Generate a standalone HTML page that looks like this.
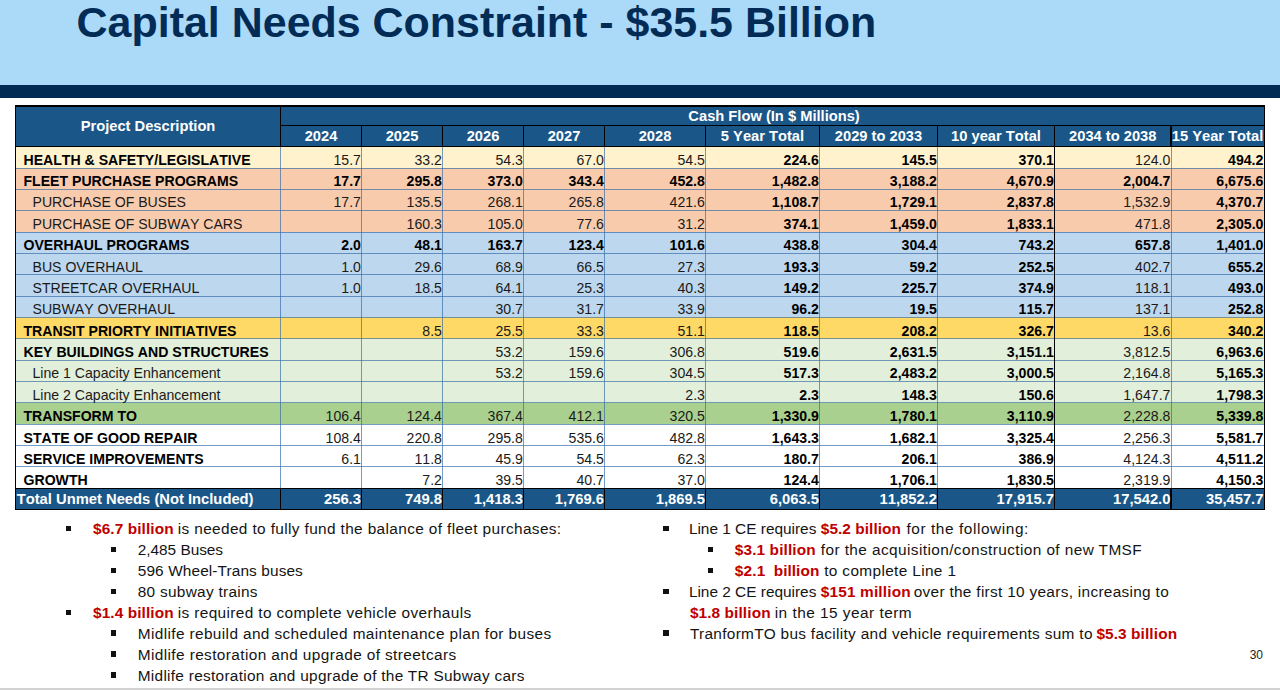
<!DOCTYPE html>
<html><head><meta charset="utf-8"><title>Capital Needs Constraint</title>
<style>
html,body{margin:0;padding:0;}
body{width:1280px;height:690px;position:relative;overflow:hidden;background:#fff;font-family:"Liberation Sans",sans-serif;color:#000;}
.a{position:absolute;}
#band{left:0;top:0;width:1280px;height:85px;background:#ABD9F8;}
#dark{left:0;top:85.2px;width:1280px;height:13.1px;background:#012B52;}
#title{left:76.6px;top:-5.3px;font-size:42.96px;font-weight:bold;color:#022C56;white-space:nowrap;line-height:54px;letter-spacing:0px;}
#foot{left:0;top:687.6px;width:1280px;height:3px;background:#D2D2D2;}
.bg{position:absolute;}
.hl{position:absolute;height:1px;background:rgba(48,104,165,0.66);}
.vl{position:absolute;width:1px;background:rgba(48,104,165,0.66);}
.bl{position:absolute;background:#000;}
.t{position:absolute;white-space:nowrap;font-kerning:none;color:#1a1a1a;font-size:14.1px;line-height:16px;height:16px;}
.r{text-align:right;}
.b{font-weight:bold;color:#000;}
.h{position:absolute;white-space:nowrap;font-kerning:none;font-size:14.7px;line-height:17px;height:17px;font-weight:bold;color:#fff;text-align:center;}
.w{color:#fff;font-weight:bold;}
.bt{position:absolute;white-space:pre;font-size:15.4px;line-height:20px;height:20px;color:#141414;}
.bb{color:#C00000;font-weight:bold;}
.sq{position:absolute;width:5px;height:5px;background:#111;}
#pn{left:1249.7px;top:647.6px;font-size:12px;line-height:14px;color:#222;}
</style></head><body>
<div class="a" id="band"></div>
<div class="a" id="dark"></div>
<div class="a" id="title">Capital Needs Constraint - $35.5 Billion</div>

<div class="bg" style="left:15.5px;top:105.5px;width:1248.5px;height:41.5px;background:#1A5788"></div>
<div class="bg" style="left:15.5px;top:147.00px;width:1248.5px;height:21.81px;background:#FFF2CC"></div>
<div class="bg" style="left:15.5px;top:168.31px;width:1248.5px;height:21.81px;background:#F8CBAD"></div>
<div class="bg" style="left:15.5px;top:189.62px;width:1248.5px;height:21.81px;background:#F8CBAD"></div>
<div class="bg" style="left:15.5px;top:210.93px;width:1248.5px;height:21.81px;background:#F8CBAD"></div>
<div class="bg" style="left:15.5px;top:232.24px;width:1248.5px;height:21.81px;background:#BDD7EE"></div>
<div class="bg" style="left:15.5px;top:253.55px;width:1248.5px;height:21.81px;background:#BDD7EE"></div>
<div class="bg" style="left:15.5px;top:274.86px;width:1248.5px;height:21.81px;background:#BDD7EE"></div>
<div class="bg" style="left:15.5px;top:296.17px;width:1248.5px;height:21.81px;background:#BDD7EE"></div>
<div class="bg" style="left:15.5px;top:317.48px;width:1248.5px;height:21.81px;background:#FFD966"></div>
<div class="bg" style="left:15.5px;top:338.79px;width:1248.5px;height:21.81px;background:#E2EFDA"></div>
<div class="bg" style="left:15.5px;top:360.10px;width:1248.5px;height:21.81px;background:#E2EFDA"></div>
<div class="bg" style="left:15.5px;top:381.41px;width:1248.5px;height:21.81px;background:#E2EFDA"></div>
<div class="bg" style="left:15.5px;top:402.72px;width:1248.5px;height:21.81px;background:#A9D08E"></div>
<div class="bg" style="left:15.5px;top:424.03px;width:1248.5px;height:21.81px;background:#FFFFFF"></div>
<div class="bg" style="left:15.5px;top:445.34px;width:1248.5px;height:21.81px;background:#FFFFFF"></div>
<div class="bg" style="left:15.5px;top:466.65px;width:1248.5px;height:21.81px;background:#FFFFFF"></div>
<div class="bg" style="left:15.5px;top:487.96px;width:1248.5px;height:21.31px;background:#1A5788"></div>
<div class="hl" style="left:15.5px;top:167.81px;width:1248.5px"></div>
<div class="hl" style="left:15.5px;top:189.12px;width:1248.5px"></div>
<div class="hl" style="left:15.5px;top:210.43px;width:1248.5px"></div>
<div class="hl" style="left:15.5px;top:231.74px;width:1248.5px"></div>
<div class="hl" style="left:15.5px;top:253.05px;width:1248.5px"></div>
<div class="hl" style="left:15.5px;top:274.36px;width:1248.5px"></div>
<div class="hl" style="left:15.5px;top:295.67px;width:1248.5px"></div>
<div class="hl" style="left:15.5px;top:316.98px;width:1248.5px"></div>
<div class="hl" style="left:15.5px;top:338.29px;width:1248.5px"></div>
<div class="hl" style="left:15.5px;top:359.60px;width:1248.5px"></div>
<div class="hl" style="left:15.5px;top:380.91px;width:1248.5px"></div>
<div class="hl" style="left:15.5px;top:402.22px;width:1248.5px"></div>
<div class="hl" style="left:15.5px;top:423.53px;width:1248.5px"></div>
<div class="hl" style="left:15.5px;top:444.84px;width:1248.5px"></div>
<div class="hl" style="left:15.5px;top:466.15px;width:1248.5px"></div>
<div class="vl" style="left:280.00px;top:147.0px;height:340.96px"></div>
<div class="vl" style="left:361.00px;top:147.0px;height:340.96px"></div>
<div class="vl" style="left:442.00px;top:147.0px;height:340.96px"></div>
<div class="vl" style="left:523.00px;top:147.0px;height:340.96px"></div>
<div class="vl" style="left:604.00px;top:147.0px;height:340.96px"></div>
<div class="vl" style="left:705.00px;top:147.0px;height:340.96px"></div>
<div class="vl" style="left:819.00px;top:147.0px;height:340.96px"></div>
<div class="vl" style="left:937.00px;top:147.0px;height:340.96px"></div>
<div class="vl" style="left:1054.00px;top:147.0px;height:340.96px"></div>
<div class="vl" style="left:1170.50px;top:147.0px;height:340.96px"></div>
<div class="bl" style="left:14.90px;top:104.90px;width:1249.80px;height:1.80px"></div>
<div class="bl" style="left:14.90px;top:104.50px;width:1.60px;height:405.77px"></div>
<div class="bl" style="left:1263.60px;top:104.50px;width:1.10px;height:405.77px"></div>
<div class="bl" style="left:14.90px;top:508.72px;width:1249.80px;height:1.40px"></div>
<div class="bl" style="left:15.50px;top:145.80px;width:1248.50px;height:1.50px"></div>
<div class="bl" style="left:15.50px;top:487.61px;width:1248.50px;height:1.35px"></div>
<div class="bl" style="left:280.50px;top:124.70px;width:983.50px;height:1.50px"></div>
<div class="bl" style="left:279.70px;top:105.50px;width:1.60px;height:41.50px"></div>
<div class="bl" style="left:360.75px;top:125.50px;width:1.50px;height:21.50px"></div>
<div class="bl" style="left:360.75px;top:487.96px;width:1.50px;height:21.31px"></div>
<div class="bl" style="left:441.75px;top:125.50px;width:1.50px;height:21.50px"></div>
<div class="bl" style="left:441.75px;top:487.96px;width:1.50px;height:21.31px"></div>
<div class="bl" style="left:522.75px;top:125.50px;width:1.50px;height:21.50px"></div>
<div class="bl" style="left:522.75px;top:487.96px;width:1.50px;height:21.31px"></div>
<div class="bl" style="left:603.75px;top:125.50px;width:1.50px;height:21.50px"></div>
<div class="bl" style="left:603.75px;top:487.96px;width:1.50px;height:21.31px"></div>
<div class="bl" style="left:704.75px;top:125.50px;width:1.50px;height:21.50px"></div>
<div class="bl" style="left:704.75px;top:487.96px;width:1.50px;height:21.31px"></div>
<div class="bl" style="left:818.75px;top:125.50px;width:1.50px;height:21.50px"></div>
<div class="bl" style="left:818.75px;top:487.96px;width:1.50px;height:21.31px"></div>
<div class="bl" style="left:936.75px;top:125.50px;width:1.50px;height:21.50px"></div>
<div class="bl" style="left:936.75px;top:487.96px;width:1.50px;height:21.31px"></div>
<div class="bl" style="left:1053.75px;top:125.50px;width:1.50px;height:21.50px"></div>
<div class="bl" style="left:1053.75px;top:487.96px;width:1.50px;height:21.31px"></div>
<div class="bl" style="left:1170.25px;top:125.50px;width:1.50px;height:21.50px"></div>
<div class="bl" style="left:1170.25px;top:487.96px;width:1.50px;height:21.31px"></div>
<div class="bl" style="left:279.75px;top:487.96px;width:1.50px;height:21.31px"></div>
<div class="bl" style="left:1053.50px;top:147.00px;width:1.50px;height:340.96px"></div>
<div class="h" style="left:15.5px;width:265.0px;top:117.75px">Project Description</div>
<div class="h" style="left:280.5px;width:983.5px;top:107.90px;padding-left:1.8px">Cash Flow (In $ Millions)</div>
<div class="h" style="left:280.5px;width:81.0px;top:128.25px">2024</div>
<div class="h" style="left:361.5px;width:81.0px;top:128.25px">2025</div>
<div class="h" style="left:442.5px;width:81.0px;top:128.25px">2026</div>
<div class="h" style="left:523.5px;width:81.0px;top:128.25px">2027</div>
<div class="h" style="left:604.5px;width:101.0px;top:128.25px">2028</div>
<div class="h" style="left:705.5px;width:114.0px;top:128.25px">5 Year Total</div>
<div class="h" style="left:819.5px;width:118.0px;top:128.25px">2029 to 2033</div>
<div class="h" style="left:937.5px;width:117.0px;top:128.25px">10 year Total</div>
<div class="h" style="left:1054.5px;width:116.5px;top:128.25px">2034 to 2038</div>
<div class="h" style="left:1171.0px;width:93.0px;top:128.25px">15 Year Total</div>
<div class="t b" style="left:23.5px;top:151.70px">HEALTH &amp; SAFETY/LEGISLATIVE</div>
<div class="t r" style="left:280.90px;width:80px;top:151.70px">15.7</div>
<div class="t r" style="left:361.90px;width:80px;top:151.70px">33.2</div>
<div class="t r" style="left:442.90px;width:80px;top:151.70px">54.3</div>
<div class="t r" style="left:523.90px;width:80px;top:151.70px">67.0</div>
<div class="t r" style="left:624.90px;width:80px;top:151.70px">54.5</div>
<div class="t r b" style="left:738.90px;width:80px;top:151.70px">224.6</div>
<div class="t r b" style="left:856.90px;width:80px;top:151.70px">145.5</div>
<div class="t r b" style="left:973.90px;width:80px;top:151.70px">370.1</div>
<div class="t r" style="left:1090.40px;width:80px;top:151.70px">124.0</div>
<div class="t r b" style="left:1183.40px;width:80px;top:151.70px">494.2</div>
<div class="t b" style="left:23.5px;top:173.07px">FLEET PURCHASE PROGRAMS</div>
<div class="t r b" style="left:280.90px;width:80px;top:173.07px">17.7</div>
<div class="t r b" style="left:361.90px;width:80px;top:173.07px">295.8</div>
<div class="t r b" style="left:442.90px;width:80px;top:173.07px">373.0</div>
<div class="t r b" style="left:523.90px;width:80px;top:173.07px">343.4</div>
<div class="t r b" style="left:624.90px;width:80px;top:173.07px">452.8</div>
<div class="t r b" style="left:738.90px;width:80px;top:173.07px">1,482.8</div>
<div class="t r b" style="left:856.90px;width:80px;top:173.07px">3,188.2</div>
<div class="t r b" style="left:973.90px;width:80px;top:173.07px">4,670.9</div>
<div class="t r b" style="left:1090.40px;width:80px;top:173.07px">2,004.7</div>
<div class="t r b" style="left:1183.40px;width:80px;top:173.07px">6,675.6</div>
<div class="t" style="left:32.5px;top:194.44px">PURCHASE OF BUSES</div>
<div class="t r" style="left:280.90px;width:80px;top:194.44px">17.7</div>
<div class="t r" style="left:361.90px;width:80px;top:194.44px">135.5</div>
<div class="t r" style="left:442.90px;width:80px;top:194.44px">268.1</div>
<div class="t r" style="left:523.90px;width:80px;top:194.44px">265.8</div>
<div class="t r" style="left:624.90px;width:80px;top:194.44px">421.6</div>
<div class="t r b" style="left:738.90px;width:80px;top:194.44px">1,108.7</div>
<div class="t r b" style="left:856.90px;width:80px;top:194.44px">1,729.1</div>
<div class="t r b" style="left:973.90px;width:80px;top:194.44px">2,837.8</div>
<div class="t r" style="left:1090.40px;width:80px;top:194.44px">1,532.9</div>
<div class="t r b" style="left:1183.40px;width:80px;top:194.44px">4,370.7</div>
<div class="t" style="left:32.5px;top:215.81px">PURCHASE OF SUBWAY CARS</div>
<div class="t r" style="left:361.90px;width:80px;top:215.81px">160.3</div>
<div class="t r" style="left:442.90px;width:80px;top:215.81px">105.0</div>
<div class="t r" style="left:523.90px;width:80px;top:215.81px">77.6</div>
<div class="t r" style="left:624.90px;width:80px;top:215.81px">31.2</div>
<div class="t r b" style="left:738.90px;width:80px;top:215.81px">374.1</div>
<div class="t r b" style="left:856.90px;width:80px;top:215.81px">1,459.0</div>
<div class="t r b" style="left:973.90px;width:80px;top:215.81px">1,833.1</div>
<div class="t r" style="left:1090.40px;width:80px;top:215.81px">471.8</div>
<div class="t r b" style="left:1183.40px;width:80px;top:215.81px">2,305.0</div>
<div class="t b" style="left:23.5px;top:237.18px">OVERHAUL PROGRAMS</div>
<div class="t r b" style="left:280.90px;width:80px;top:237.18px">2.0</div>
<div class="t r b" style="left:361.90px;width:80px;top:237.18px">48.1</div>
<div class="t r b" style="left:442.90px;width:80px;top:237.18px">163.7</div>
<div class="t r b" style="left:523.90px;width:80px;top:237.18px">123.4</div>
<div class="t r b" style="left:624.90px;width:80px;top:237.18px">101.6</div>
<div class="t r b" style="left:738.90px;width:80px;top:237.18px">438.8</div>
<div class="t r b" style="left:856.90px;width:80px;top:237.18px">304.4</div>
<div class="t r b" style="left:973.90px;width:80px;top:237.18px">743.2</div>
<div class="t r b" style="left:1090.40px;width:80px;top:237.18px">657.8</div>
<div class="t r b" style="left:1183.40px;width:80px;top:237.18px">1,401.0</div>
<div class="t" style="left:32.5px;top:258.55px">BUS OVERHAUL</div>
<div class="t r" style="left:280.90px;width:80px;top:258.55px">1.0</div>
<div class="t r" style="left:361.90px;width:80px;top:258.55px">29.6</div>
<div class="t r" style="left:442.90px;width:80px;top:258.55px">68.9</div>
<div class="t r" style="left:523.90px;width:80px;top:258.55px">66.5</div>
<div class="t r" style="left:624.90px;width:80px;top:258.55px">27.3</div>
<div class="t r b" style="left:738.90px;width:80px;top:258.55px">193.3</div>
<div class="t r b" style="left:856.90px;width:80px;top:258.55px">59.2</div>
<div class="t r b" style="left:973.90px;width:80px;top:258.55px">252.5</div>
<div class="t r" style="left:1090.40px;width:80px;top:258.55px">402.7</div>
<div class="t r b" style="left:1183.40px;width:80px;top:258.55px">655.2</div>
<div class="t" style="left:32.5px;top:279.92px">STREETCAR OVERHAUL</div>
<div class="t r" style="left:280.90px;width:80px;top:279.92px">1.0</div>
<div class="t r" style="left:361.90px;width:80px;top:279.92px">18.5</div>
<div class="t r" style="left:442.90px;width:80px;top:279.92px">64.1</div>
<div class="t r" style="left:523.90px;width:80px;top:279.92px">25.3</div>
<div class="t r" style="left:624.90px;width:80px;top:279.92px">40.3</div>
<div class="t r b" style="left:738.90px;width:80px;top:279.92px">149.2</div>
<div class="t r b" style="left:856.90px;width:80px;top:279.92px">225.7</div>
<div class="t r b" style="left:973.90px;width:80px;top:279.92px">374.9</div>
<div class="t r" style="left:1090.40px;width:80px;top:279.92px">118.1</div>
<div class="t r b" style="left:1183.40px;width:80px;top:279.92px">493.0</div>
<div class="t" style="left:32.5px;top:301.29px">SUBWAY OVERHAUL</div>
<div class="t r" style="left:442.90px;width:80px;top:301.29px">30.7</div>
<div class="t r" style="left:523.90px;width:80px;top:301.29px">31.7</div>
<div class="t r" style="left:624.90px;width:80px;top:301.29px">33.9</div>
<div class="t r b" style="left:738.90px;width:80px;top:301.29px">96.2</div>
<div class="t r b" style="left:856.90px;width:80px;top:301.29px">19.5</div>
<div class="t r b" style="left:973.90px;width:80px;top:301.29px">115.7</div>
<div class="t r" style="left:1090.40px;width:80px;top:301.29px">137.1</div>
<div class="t r b" style="left:1183.40px;width:80px;top:301.29px">252.8</div>
<div class="t b" style="left:23.5px;top:322.66px">TRANSIT PRIORTY INITIATIVES</div>
<div class="t r" style="left:361.90px;width:80px;top:322.66px">8.5</div>
<div class="t r" style="left:442.90px;width:80px;top:322.66px">25.5</div>
<div class="t r" style="left:523.90px;width:80px;top:322.66px">33.3</div>
<div class="t r" style="left:624.90px;width:80px;top:322.66px">51.1</div>
<div class="t r b" style="left:738.90px;width:80px;top:322.66px">118.5</div>
<div class="t r b" style="left:856.90px;width:80px;top:322.66px">208.2</div>
<div class="t r b" style="left:973.90px;width:80px;top:322.66px">326.7</div>
<div class="t r" style="left:1090.40px;width:80px;top:322.66px">13.6</div>
<div class="t r b" style="left:1183.40px;width:80px;top:322.66px">340.2</div>
<div class="t b" style="left:23.5px;top:344.03px">KEY BUILDINGS AND STRUCTURES</div>
<div class="t r" style="left:442.90px;width:80px;top:344.03px">53.2</div>
<div class="t r" style="left:523.90px;width:80px;top:344.03px">159.6</div>
<div class="t r" style="left:624.90px;width:80px;top:344.03px">306.8</div>
<div class="t r b" style="left:738.90px;width:80px;top:344.03px">519.6</div>
<div class="t r b" style="left:856.90px;width:80px;top:344.03px">2,631.5</div>
<div class="t r b" style="left:973.90px;width:80px;top:344.03px">3,151.1</div>
<div class="t r" style="left:1090.40px;width:80px;top:344.03px">3,812.5</div>
<div class="t r b" style="left:1183.40px;width:80px;top:344.03px">6,963.6</div>
<div class="t" style="left:32.5px;top:365.40px">Line 1 Capacity Enhancement</div>
<div class="t r" style="left:442.90px;width:80px;top:365.40px">53.2</div>
<div class="t r" style="left:523.90px;width:80px;top:365.40px">159.6</div>
<div class="t r" style="left:624.90px;width:80px;top:365.40px">304.5</div>
<div class="t r b" style="left:738.90px;width:80px;top:365.40px">517.3</div>
<div class="t r b" style="left:856.90px;width:80px;top:365.40px">2,483.2</div>
<div class="t r b" style="left:973.90px;width:80px;top:365.40px">3,000.5</div>
<div class="t r" style="left:1090.40px;width:80px;top:365.40px">2,164.8</div>
<div class="t r b" style="left:1183.40px;width:80px;top:365.40px">5,165.3</div>
<div class="t" style="left:32.5px;top:386.77px">Line 2 Capacity Enhancement</div>
<div class="t r" style="left:624.90px;width:80px;top:386.77px">2.3</div>
<div class="t r b" style="left:738.90px;width:80px;top:386.77px">2.3</div>
<div class="t r b" style="left:856.90px;width:80px;top:386.77px">148.3</div>
<div class="t r b" style="left:973.90px;width:80px;top:386.77px">150.6</div>
<div class="t r" style="left:1090.40px;width:80px;top:386.77px">1,647.7</div>
<div class="t r b" style="left:1183.40px;width:80px;top:386.77px">1,798.3</div>
<div class="t b" style="left:23.5px;top:408.14px">TRANSFORM TO</div>
<div class="t r" style="left:280.90px;width:80px;top:408.14px">106.4</div>
<div class="t r" style="left:361.90px;width:80px;top:408.14px">124.4</div>
<div class="t r" style="left:442.90px;width:80px;top:408.14px">367.4</div>
<div class="t r" style="left:523.90px;width:80px;top:408.14px">412.1</div>
<div class="t r" style="left:624.90px;width:80px;top:408.14px">320.5</div>
<div class="t r b" style="left:738.90px;width:80px;top:408.14px">1,330.9</div>
<div class="t r b" style="left:856.90px;width:80px;top:408.14px">1,780.1</div>
<div class="t r b" style="left:973.90px;width:80px;top:408.14px">3,110.9</div>
<div class="t r" style="left:1090.40px;width:80px;top:408.14px">2,228.8</div>
<div class="t r b" style="left:1183.40px;width:80px;top:408.14px">5,339.8</div>
<div class="t b" style="left:23.5px;top:429.51px">STATE OF GOOD REPAIR</div>
<div class="t r" style="left:280.90px;width:80px;top:429.51px">108.4</div>
<div class="t r" style="left:361.90px;width:80px;top:429.51px">220.8</div>
<div class="t r" style="left:442.90px;width:80px;top:429.51px">295.8</div>
<div class="t r" style="left:523.90px;width:80px;top:429.51px">535.6</div>
<div class="t r" style="left:624.90px;width:80px;top:429.51px">482.8</div>
<div class="t r b" style="left:738.90px;width:80px;top:429.51px">1,643.3</div>
<div class="t r b" style="left:856.90px;width:80px;top:429.51px">1,682.1</div>
<div class="t r b" style="left:973.90px;width:80px;top:429.51px">3,325.4</div>
<div class="t r" style="left:1090.40px;width:80px;top:429.51px">2,256.3</div>
<div class="t r b" style="left:1183.40px;width:80px;top:429.51px">5,581.7</div>
<div class="t b" style="left:23.5px;top:450.88px">SERVICE IMPROVEMENTS</div>
<div class="t r" style="left:280.90px;width:80px;top:450.88px">6.1</div>
<div class="t r" style="left:361.90px;width:80px;top:450.88px">11.8</div>
<div class="t r" style="left:442.90px;width:80px;top:450.88px">45.9</div>
<div class="t r" style="left:523.90px;width:80px;top:450.88px">54.5</div>
<div class="t r" style="left:624.90px;width:80px;top:450.88px">62.3</div>
<div class="t r b" style="left:738.90px;width:80px;top:450.88px">180.7</div>
<div class="t r b" style="left:856.90px;width:80px;top:450.88px">206.1</div>
<div class="t r b" style="left:973.90px;width:80px;top:450.88px">386.9</div>
<div class="t r" style="left:1090.40px;width:80px;top:450.88px">4,124.3</div>
<div class="t r b" style="left:1183.40px;width:80px;top:450.88px">4,511.2</div>
<div class="t b" style="left:23.5px;top:472.25px">GROWTH</div>
<div class="t r" style="left:361.90px;width:80px;top:472.25px">7.2</div>
<div class="t r" style="left:442.90px;width:80px;top:472.25px">39.5</div>
<div class="t r" style="left:523.90px;width:80px;top:472.25px">40.7</div>
<div class="t r" style="left:624.90px;width:80px;top:472.25px">37.0</div>
<div class="t r b" style="left:738.90px;width:80px;top:472.25px">124.4</div>
<div class="t r b" style="left:856.90px;width:80px;top:472.25px">1,706.1</div>
<div class="t r b" style="left:973.90px;width:80px;top:472.25px">1,830.5</div>
<div class="t r" style="left:1090.40px;width:80px;top:472.25px">2,319.9</div>
<div class="t r b" style="left:1183.40px;width:80px;top:472.25px">4,150.3</div>
<div class="t w" style="left:16.7px;top:490.96px;font-size:14.75px">Total Unmet Needs (Not Included)</div>
<div class="t r w" style="left:280.90px;width:80px;top:490.96px;font-size:14.75px">256.3</div>
<div class="t r w" style="left:361.90px;width:80px;top:490.96px;font-size:14.75px">749.8</div>
<div class="t r w" style="left:442.90px;width:80px;top:490.96px;font-size:14.75px">1,418.3</div>
<div class="t r w" style="left:523.90px;width:80px;top:490.96px;font-size:14.75px">1,769.6</div>
<div class="t r w" style="left:624.90px;width:80px;top:490.96px;font-size:14.75px">1,869.5</div>
<div class="t r w" style="left:738.90px;width:80px;top:490.96px;font-size:14.75px">6,063.5</div>
<div class="t r w" style="left:856.90px;width:80px;top:490.96px;font-size:14.75px">11,852.2</div>
<div class="t r w" style="left:973.90px;width:80px;top:490.96px;font-size:14.75px">17,915.7</div>
<div class="t r w" style="left:1090.40px;width:80px;top:490.96px;font-size:14.75px">17,542.0</div>
<div class="t r w" style="left:1183.40px;width:80px;top:490.96px;font-size:14.75px">35,457.7</div>
<div class="bt bb" style="left:93.00px;top:519.36px;letter-spacing:0.091px">$6.7 billion</div>
<div class="bt" style="left:177.75px;top:519.36px;letter-spacing:0.366px">is needed to fully fund the balance of fleet purchases:</div>
<div class="bt" style="left:137.75px;top:540.31px;letter-spacing:-0.025px">2,485 Buses</div>
<div class="bt" style="left:137.75px;top:561.26px;letter-spacing:0.112px">596 Wheel-Trans buses</div>
<div class="bt" style="left:137.75px;top:582.21px;letter-spacing:0.283px">80 subway trains</div>
<div class="bt bb" style="left:93.00px;top:603.16px;letter-spacing:0.091px">$1.4 billion</div>
<div class="bt" style="left:177.75px;top:603.16px;letter-spacing:0.364px">is required to complete vehicle overhauls</div>
<div class="bt" style="left:137.75px;top:624.11px;letter-spacing:0.375px">Midlife rebuild and scheduled maintenance plan for buses</div>
<div class="bt" style="left:137.75px;top:645.06px;letter-spacing:0.392px">Midlife restoration and upgrade of streetcars</div>
<div class="bt" style="left:137.75px;top:666.01px;letter-spacing:0.284px">Midlife restoration and upgrade of the TR Subway cars</div>
<div class="bt" style="left:688.90px;top:519.36px;letter-spacing:0.0px">Line 1 CE requires</div>
<div class="bt bb" style="left:820.80px;top:519.36px;letter-spacing:0.055px">$5.2 billion</div>
<div class="bt" style="left:906.40px;top:519.36px;letter-spacing:0.582px">for the following:</div>
<div class="bt bb" style="left:734.80px;top:540.31px;letter-spacing:0.118px">$3.1 billion</div>
<div class="bt" style="left:820.80px;top:540.31px;letter-spacing:0.407px">for the acquisition/construction of new TMSF</div>
<div class="bt bb" style="left:734.80px;top:561.26px;letter-spacing:0.167px">$2.1</div>
<div class="bt bb" style="left:773.70px;top:561.26px;letter-spacing:0.05px">billion</div>
<div class="bt" style="left:824.20px;top:561.26px;letter-spacing:0.353px">to complete Line 1</div>
<div class="bt" style="left:688.90px;top:582.21px;letter-spacing:0.0px">Line 2 CE requires</div>
<div class="bt bb" style="left:820.80px;top:582.21px;letter-spacing:0.155px">$151 million</div>
<div class="bt" style="left:913.70px;top:582.21px;letter-spacing:0.303px">over the first 10 years, increasing to</div>
<div class="bt bb" style="left:689.90px;top:603.16px;letter-spacing:0.1px">$1.8 billion</div>
<div class="bt" style="left:774.70px;top:603.16px;letter-spacing:0.478px">in the 15 year term</div>
<div class="bt" style="left:689.90px;top:624.11px;letter-spacing:0.311px">TranformTO bus facility and vehicle requirements sum to</div>
<div class="bt bb" style="left:1096.40px;top:624.11px;letter-spacing:0.1px">$5.3 billion</div>
<div class="sq" style="left:65.7px;top:525.70px;width:5.5px;height:5.5px"></div>
<div class="sq" style="left:110.9px;top:546.65px;width:5.5px;height:5.5px"></div>
<div class="sq" style="left:110.9px;top:567.60px;width:5.5px;height:5.5px"></div>
<div class="sq" style="left:110.9px;top:588.55px;width:5.5px;height:5.5px"></div>
<div class="sq" style="left:65.7px;top:609.50px;width:5.5px;height:5.5px"></div>
<div class="sq" style="left:110.9px;top:630.45px;width:5.5px;height:5.5px"></div>
<div class="sq" style="left:110.9px;top:651.40px;width:5.5px;height:5.5px"></div>
<div class="sq" style="left:110.9px;top:672.35px;width:5.5px;height:5.5px"></div>
<div class="sq" style="left:663.1px;top:525.70px;width:5.5px;height:5.5px"></div>
<div class="sq" style="left:707.9px;top:546.65px;width:5.5px;height:5.5px"></div>
<div class="sq" style="left:707.9px;top:567.60px;width:5.5px;height:5.5px"></div>
<div class="sq" style="left:663.1px;top:588.55px;width:5.5px;height:5.5px"></div>
<div class="sq" style="left:663.1px;top:630.45px;width:5.5px;height:5.5px"></div>
<div class="a" id="pn">30</div>
<div class="a" id="foot"></div>
</body></html>
